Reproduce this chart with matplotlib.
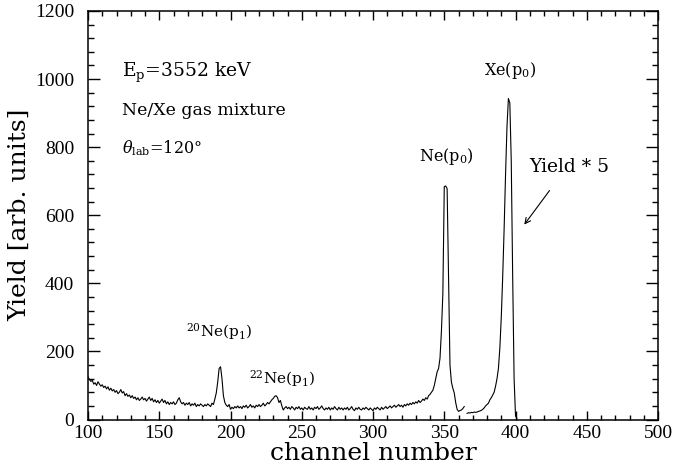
import numpy as np
import matplotlib
matplotlib.use("Agg")
import matplotlib.pyplot as plt
from matplotlib.ticker import MultipleLocator

plt.rcParams['font.family'] = ['DejaVu Serif']
plt.rcParams['mathtext.fontset'] = 'dejavuserif'

# spectrum part 1: channels 100..364 (as measured)
chan_a = np.arange(100, 365)
yield_a = [
    125, 118, 112, 115, 104, 108, 100, 111, 104, 98,
    102, 94, 98, 90, 96, 86, 92, 84, 88, 80,
    85, 76, 80, 88, 78, 82, 70, 76, 68, 72,
    64, 70, 62, 66, 58, 64, 56, 60, 66, 58,
    62, 54, 60, 66, 56, 62, 52, 58, 50, 56,
    48, 54, 60, 50, 56, 46, 52, 44, 50, 46,
    52, 44, 48, 58, 64, 52, 46, 50, 42, 48,
    44, 50, 40, 46, 42, 48, 38, 44, 40, 46,
    42, 38, 44, 40, 46, 42, 38, 48, 44, 60,
    78, 110, 150, 155, 120, 70, 50, 42, 38, 44,
    30, 36, 32, 38, 34, 40, 34, 38, 32, 40,
    36, 42, 34, 38, 44, 36, 40, 34, 42, 38,
    44, 38, 42, 48, 40, 44, 50, 46, 52, 58,
    62, 68, 70, 64, 50, 56, 40, 28, 34, 38,
    32, 36, 30, 38, 34, 28, 36, 32, 38, 30,
    34, 28, 36, 32, 30, 38, 30, 34, 28, 36,
    32, 38, 30, 34, 40, 32, 28, 34, 30, 36,
    28, 34, 30, 38, 32, 28, 36, 30, 34, 28,
    34, 30, 36, 28, 32, 38, 30, 26, 34, 30,
    36, 30, 28, 34, 30, 36, 32, 28, 34, 30,
    26, 34, 30, 36, 32, 28, 36, 30, 34, 38,
    32, 36, 40, 34, 38, 42, 36, 40, 44, 38,
    42, 36, 44, 40, 46, 42, 48, 44, 50, 46,
    52, 48, 56, 50, 54, 60, 56, 64, 60, 70,
    74, 80, 86, 100, 120, 140, 150, 180, 260, 370,
    684, 686, 678, 420, 160, 110, 92, 78, 50, 30,
    24, 26, 28, 32, 38,
]

# spectrum part 2: channels 366..401 (yield * 5)
chan_b = np.arange(366, 402)
yield_b = [
    18, 20, 19, 21, 20, 22, 21, 22, 24, 25,
    27, 30, 34, 40, 44, 48, 58, 64, 72, 80,
    98, 120, 150, 210, 300, 420, 560, 720, 860, 943,
    930, 760, 420, 120, 10, 4,
]

fig = plt.figure(figsize=(6.74, 4.72), dpi=100)
ax = fig.add_axes([0.1306, 0.1112, 0.8457, 0.8655])

ax.plot(chan_a, yield_a, color='k', lw=0.8)
ax.plot(chan_b, yield_b, color='k', lw=0.8)

ax.set_xlim(100, 500)
ax.set_ylim(0, 1200)
ax.xaxis.set_major_locator(MultipleLocator(50))
ax.xaxis.set_minor_locator(MultipleLocator(10))
ax.yaxis.set_major_locator(MultipleLocator(200))
ax.yaxis.set_minor_locator(MultipleLocator(40))
ax.tick_params(which='both', direction='in', top=True, right=True, width=1.0)
ax.tick_params(axis='x', which='major', length=6.5, pad=4)
ax.tick_params(axis='x', which='minor', length=3.6)
ax.tick_params(axis='y', which='major', length=8.6, pad=10)
ax.tick_params(axis='y', which='minor', length=4.3)
for lab in ax.get_xticklabels() + ax.get_yticklabels():
    lab.set_family('Liberation Serif')
    lab.set_fontsize(14)
for s in ax.spines.values():
    s.set_linewidth(1.1)

ax.set_xlabel('channel number', fontsize=18, labelpad=0)
ax.set_ylabel('Yield [arb. units]', fontsize=18, labelpad=3)

ax.text(123.5, 1005, r'E$_\mathrm{p}$=3552 keV', fontsize=13.5, va='baseline')
ax.text(123.5, 909, 'Ne/Xe gas mixture', fontsize=12.5, va='center')
ax.text(123.5, 798, r'$\theta_\mathrm{lab}$=120°', fontsize=11.5, va='center')
ax.text(351.5, 772, r'Ne(p$_0$)', fontsize=11.5, ha='center', va='center')
ax.text(396, 1025, r'Xe(p$_0$)', fontsize=11.5, ha='center', va='center')
ax.text(437.5, 743, 'Yield * 5', fontsize=13.5, ha='center', va='center')
ax.text(192, 258, r'$^{20}$Ne(p$_1$)', fontsize=11, ha='center', va='center')
ax.text(236.5, 121, r'$^{22}$Ne(p$_1$)', fontsize=11, ha='center', va='center')
ax.annotate('', xy=(405, 566), xytext=(425, 679),
            arrowprops=dict(arrowstyle='->', color='k', lw=0.8))

fig.savefig('out.png', dpi=100)
